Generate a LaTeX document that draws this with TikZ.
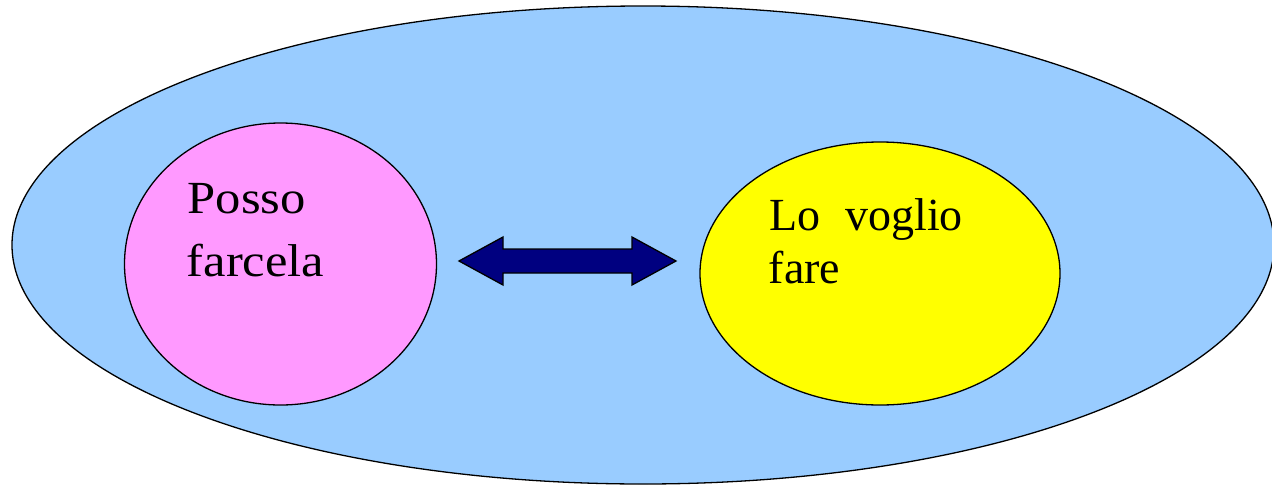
\documentclass[tikz,border=0pt]{standalone}
\usepackage{fontspec}
\usepackage{graphicx}
\newfontfamily\capfont{Liberation Serif}
\usetikzlibrary{shapes.geometric}
\definecolor{skyfill}{RGB}{153,204,255}
\definecolor{pinkfill}{RGB}{255,153,255}
\definecolor{yellowfill}{RGB}{255,255,0}
\definecolor{navyfill}{RGB}{0,0,128}
\tikzset{
  blob/.style={draw=black, line width=1.3pt, ellipse, inner sep=0pt},
  txt/.style={anchor=base west, inner sep=0pt, font=\capfont\fontsize{46}{54}\selectfont},
  blockarrow/.style={fill=navyfill, draw=black, line width=1.3pt, line join=miter}
}
\begin{document}
\begin{tikzpicture}[x=1pt,y=-1pt]
\useasboundingbox (0,0) rectangle (1272,485);
\node[blob, fill=skyfill, minimum width=1262, minimum height=478] (outer) at (643,245) {};
\node[blob, fill=pinkfill, minimum width=312, minimum height=282] (can) at (280.5,264) {};
\node[blob, fill=yellowfill, minimum width=360, minimum height=263] (want) at (880,273.5) {};
\node[txt] (t1) at (187.5,213.3) {\scalebox{1.1}[1]{Posso}};
\node[txt] (t2) at (186.5,276.7) {\scalebox{1.1}[1]{farcela}};
\node[txt] (t3) at (769,230) {Lo\hspace{25pt}voglio};
\node[txt] (t4) at (768.5,283.3) {fare};
\draw[blockarrow] (459,261) -- (503,237) -- (503,249) -- (632,249) -- (632,237)
  -- (676,261) -- (632,285) -- (632,273) -- (503,273) -- (503,285) -- cycle;
\end{tikzpicture}
\end{document}
